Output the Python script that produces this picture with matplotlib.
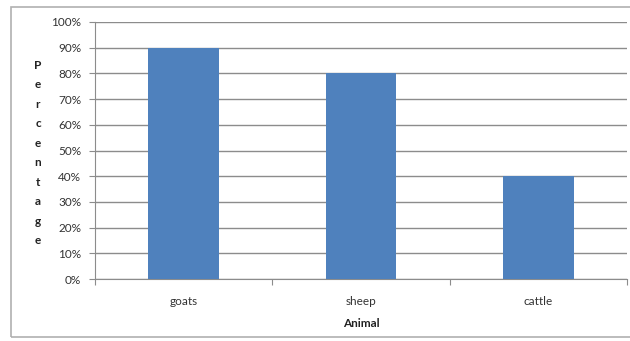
import matplotlib
matplotlib.use('Agg')
import matplotlib.pyplot as plt
from matplotlib.patches import Rectangle
from matplotlib.ticker import PercentFormatter, MultipleLocator

# data
animals = ['goats', 'sheep', 'cattle']
percentages = [90, 80, 40]

plt.rcParams['font.family'] = ['Lato', 'DejaVu Sans']

fig = plt.figure(figsize=(6.3, 3.41), dpi=100)
ax = fig.add_axes([95 / 630, 1 - 279 / 341, 532 / 630, 257 / 341])

# grey frame around the chart, like the excel chart area
fig.patches.append(Rectangle((11 / 630, 4 / 341), 1.2, 330 / 341, transform=fig.transFigure,
                             fill=False, edgecolor='#b0b0b0', linewidth=1.2))

x = range(len(animals))
ax.bar(x, percentages, width=0.4, color='#4f81bd', zorder=3)

ax.set_xlim(-0.5, len(animals) - 0.5)
ax.set_ylim(0, 100)
ax.yaxis.set_major_locator(MultipleLocator(10))
ax.yaxis.set_major_formatter(PercentFormatter(decimals=0))
ax.grid(axis='y', color='#8c8c8c', linewidth=1, zorder=0)

ax.set_xticks([i - 0.5 for i in range(len(animals) + 1)])
ax.set_xticklabels([])
ax.set_xticks(list(x), minor=True)
ax.set_xticklabels(animals, minor=True)
ax.tick_params(axis='x', which='major', length=4, color='#8c8c8c', direction='out')
ax.tick_params(axis='x', which='minor', length=0, pad=12, labelsize=8.5, labelcolor='#333333')
ax.tick_params(axis='y', length=4, color='#8c8c8c', labelsize=8.5, labelcolor='#333333', pad=6)

for s in ['top', 'right']:
    ax.spines[s].set_visible(False)
for s in ['left', 'bottom']:
    ax.spines[s].set_color('#8c8c8c')

ax.set_xlabel('Animal', fontsize=8.5, fontweight='bold', color='#222222', labelpad=8)
fig.text(38 / 630, 1 - 153 / 341, '\n'.join('Percentage'), ha='center', va='center',
         fontsize=8.5, fontweight='bold', color='#222222', linespacing=1.94)

fig.savefig('out.png', dpi=100)
